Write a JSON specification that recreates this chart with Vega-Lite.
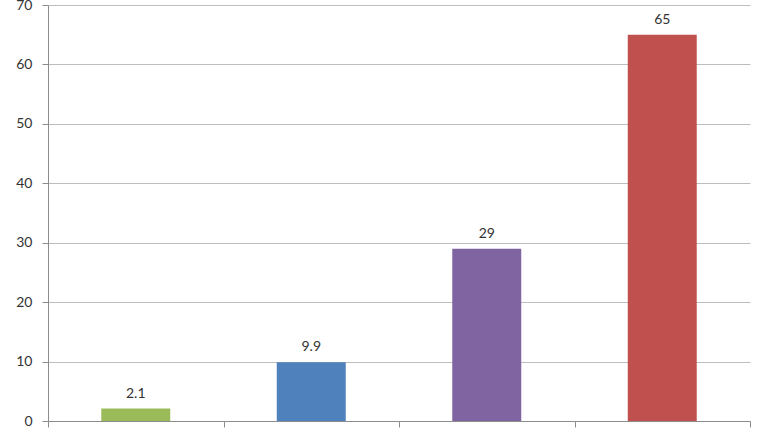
{
  "$schema": "https://vega.github.io/schema/vega-lite/v6.json",
  "autosize": "none",
  "width": 702,
  "height": 416,
  "padding": {"left": 48, "top": 5, "right": 18, "bottom": 11},
  "background": "white",
  "data": {
    "values": [
      {"group": "A", "value": 2.1, "label": "2.1"},
      {"group": "B", "value": 9.9, "label": "9.9"},
      {"group": "C", "value": 29, "label": "29"},
      {"group": "D", "value": 65, "label": "65"}
    ]
  },
  "encoding": {
    "x": {
      "field": "group", "type": "nominal", "sort": null,
      "scale": {"paddingInner": 0, "paddingOuter": 0},
      "axis": {
        "title": null, "labels": false, "domainColor": "#8c8c8c",
        "tickColor": "#8c8c8c", "tickBand": "extent", "tickSize": 6
      }
    },
    "y": {
      "field": "value", "type": "quantitative",
      "scale": {"domain": [0, 70], "nice": false},
      "axis": {
        "title": null, "values": [0, 10, 20, 30, 40, 50, 60, 70],
        "gridColor": "#bdbdbd", "gridOpacity": 1, "domainColor": "#8c8c8c",
        "tickColor": "#8c8c8c", "tickSize": 6, "labelPadding": 10,
        "labelFont": "Lato", "labelFontSize": 14, "labelColor": "#333333"
      }
    }
  },
  "layer": [
    {
      "mark": {"type": "bar", "width": {"band": 0.393}},
      "encoding": {
        "color": {
          "field": "group", "type": "nominal", "legend": null,
          "scale": {"domain": ["A", "B", "C", "D"], "range": ["#9bbb59", "#4f81bd", "#8064a2", "#c0504d"]}
        }
      }
    },
    {
      "mark": {"type": "text", "baseline": "bottom", "dy": -8, "font": "Lato", "fontSize": 14, "color": "#333333"},
      "encoding": {"text": {"field": "label"}}
    }
  ],
  "config": {"view": {"stroke": null}}
}
